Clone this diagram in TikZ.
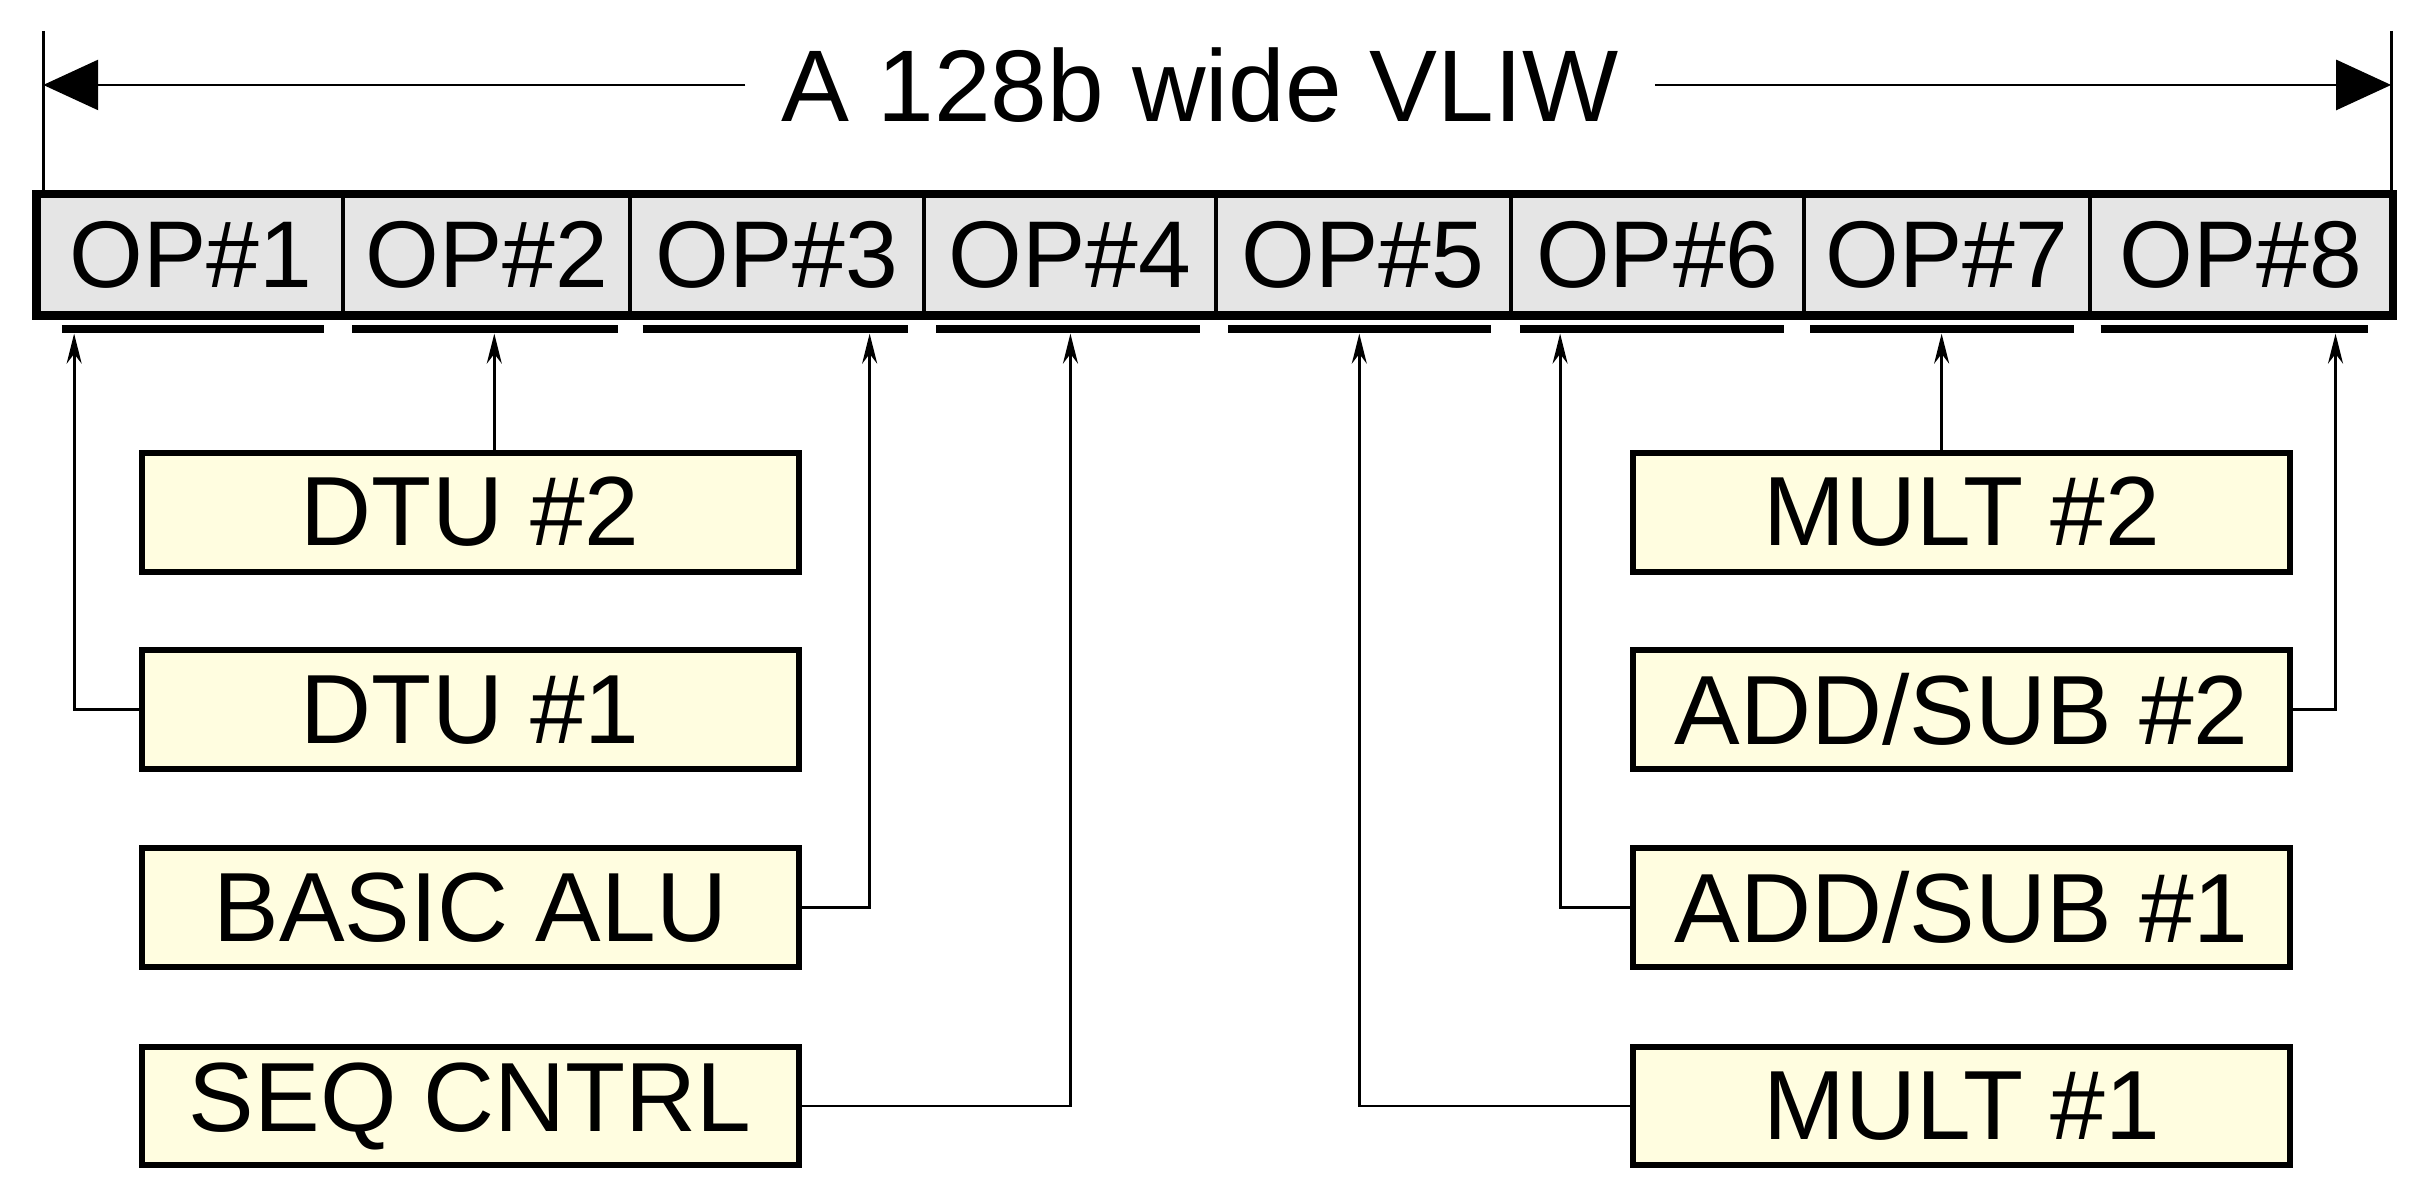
\documentclass[tikz,border=0pt]{standalone}
\usepackage{fontspec}
\setmainfont{Liberation Sans}
\usetikzlibrary{arrows.meta}
\begin{document}
\begin{tikzpicture}[x=0.01545cm,y=-0.01545cm,
  field/.style={draw=black,line width=1.1pt,fill=black!10,inner sep=0pt,font=\fontsize{27}{29}\selectfont},
  unit/.style={draw=black,line width=1.7pt,fill=yellow!12,minimum width=6.57cm,minimum height=1.19cm,inner sep=0pt,font=\fontsize{28}{30}\selectfont},
  bar/.style={line width=2pt},
  conn/.style={line width=0.8pt,-{Stealth[length=0.3cm,width=0.15cm]}}]
\useasboundingbox (0,0) rectangle (1568,776);
% title
\coordinate (tl) at (28,55); \coordinate (tr) at (1548,55);
\node (title) at (777,55) [fill=white,inner xsep=10pt,font=\fontsize{29}{31}\selectfont] {A 128b wide VLIW};
\draw[line width=0.8pt,-{Triangle[length=0.55cm,width=0.5cm]}] (title.west) -- (tl);
\draw[line width=0.8pt,-{Triangle[length=0.55cm,width=0.5cm]}] (title.east) -- (tr);
\draw[line width=0.8pt] (28,20) -- (28,127) (1548,20) -- (1548,127);
% fields
\foreach \n/\a/\b in {1/25/222,2/222/408,3/408/598,4/598/787,5/787/978,6/978/1168,7/1168/1353,8/1353/1548}{
  \node[field,minimum width={(\b-\a)*0.01545cm},minimum height={76*0.01545cm}] (op\n) at ({(\a+\b)/2},165) {OP\#\n};
}
\draw[line width=2.4pt] (op1.north west) rectangle (op8.south east);
% bars
\foreach \a/\b in {40/210,228/400,416/588,606/777,795/965,984/1155,1172/1343,1360/1533}{
  \draw[bar] (\a,213) -- (\b,213);
}
% arrow end points
\foreach \n/\x in {1/48,2/320,3/563,4/693,5/880,6/1010,7/1257,8/1512}{
  \coordinate (a\n) at (\x,216);
}
% units
\node[unit] (dtu2) at (304.5,331.5) {DTU \#2};
\node[unit] (dtu1) at (304.5,459.5) {DTU \#1};
\node[unit] (alu) at (304.5,587.5) {BASIC ALU};
\node[unit] (seq) at (304.5,716) {SEQ CNTRL};
\node[unit] (mult2) at (1270,331.5) {MULT \#2};
\node[unit] (add2) at (1270,459.5) {ADD/SUB \#2};
\node[unit] (add1) at (1270,587.5) {ADD/SUB \#1};
\node[unit] (mult1) at (1270,716) {MULT \#1};
% connectors
\draw[conn] (dtu2.north -| a2) -- (a2);
\draw[conn] (dtu1.west) -| (a1);
\draw[conn] (alu.east) -| (a3);
\draw[conn] (seq.east) -| (a4);
\draw[conn] (mult2.north -| a7) -- (a7);
\draw[conn] (add2.east) -| (a8);
\draw[conn] (add1.west) -| (a6);
\draw[conn] (mult1.west) -| (a5);
\end{tikzpicture}
\end{document}
